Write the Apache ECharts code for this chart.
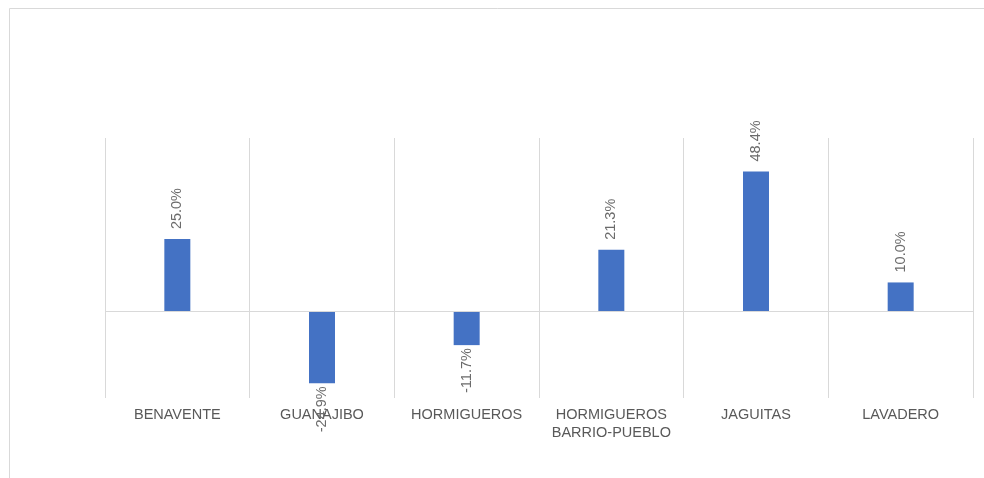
<!DOCTYPE html>
<html>
<head>
<meta charset="utf-8">
<script src="https://cdn.jsdelivr.net/npm/echarts@6/dist/echarts.min.js"></script>
<style>
  html, body { margin: 0; padding: 0; background: #fff; }
  #chart { width: 984px; height: 478px; }
</style>
</head>
<body>
<div id="chart"></div>
<script>
var categories = ['BENAVENTE', 'GUANAJIBO', 'HORMIGUEROS', 'HORMIGUEROS\nBARRIO-PUEBLO', 'JAGUITAS', 'LAVADERO'];
var values = [25.0, -24.9, -11.7, 21.3, 48.4, 10.0];

var barData = values.map(function (v) {
    return {
        value: v,
        label: v >= 0
            ? { position: 'top', align: 'left', distance: 10 }
            : { position: 'bottom', align: 'right', distance: 3 }
    };
});

var chart = echarts.init(document.getElementById('chart'));
var option = {
    backgroundColor: '#fff',
    animation: false,
    graphic: [{
        type: 'rect',
        shape: { x: 9.5, y: 8.5, width: 1000, height: 500 },
        style: { fill: 'none', stroke: '#d9d9d9', lineWidth: 1 },
        silent: true
    }],
    grid: {
        left: 105,
        right: 11,
        top: 138,
        bottom: 80
    },
    xAxis: {
        type: 'category',
        data: categories,
        boundaryGap: true,
        axisLine: { show: false },
        axisTick: { show: false },
        splitLine: { show: true, lineStyle: { color: '#d9d9d9', width: 1 } },
        axisLabel: {
            color: '#595959',
            fontFamily: 'Liberation Sans, Arial, sans-serif',
            fontSize: 14.5,
            margin: 8,
            lineHeight: 18,
            interval: 0
        }
    },
    yAxis: {
        type: 'value',
        min: -30,
        max: 60,
        interval: 30,
        show: false,
        splitLine: { show: false }
    },
    series: [{
        type: 'bar',
        data: barData,
        barWidth: 26,
        itemStyle: { color: '#4472c4' },
        label: {
            show: true,
            rotate: 90,
            verticalAlign: 'middle',
            color: '#6b6b6b',
            fontFamily: 'Liberation Sans, Arial, sans-serif',
            fontSize: 14.5,
            formatter: function (p) { return p.value.toFixed(1) + '%'; }
        },
        markLine: {
            silent: true,
            symbol: 'none',
            label: { show: false },
            lineStyle: { color: '#d9d9d9', type: 'solid', width: 1 },
            data: [{ yAxis: 0 }]
        }
    }]
};
chart.setOption(option);
window.addEventListener('resize', function () {
    chart.resize();
});
</script>
</body>
</html>
